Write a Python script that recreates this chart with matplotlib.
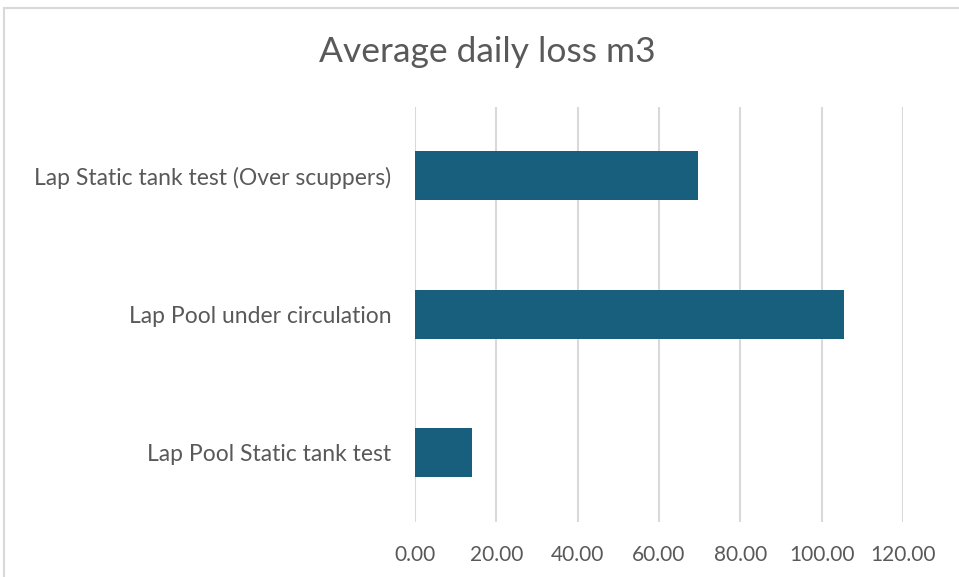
import matplotlib.pyplot as plt
from matplotlib.patches import Rectangle
from matplotlib.ticker import FormatStrFormatter

# categories listed bottom to top (Excel order)
categories = ["Lap Pool Static tank test", "Lap Pool under circulation",
              "Lap Static tank test (Over scuppers)"]
values = [14.1, 105.5, 69.5]
xticks = [0, 20, 40, 60, 80, 100, 120]

plt.rcParams['font.family'] = ['Lato', 'DejaVu Sans']
txt = "#595959"

fig = plt.figure(figsize=(9.59, 5.77), dpi=100)
# light chart border
fig.patches.append(Rectangle((4/959, -0.1), 1.2, 1 - 8/577 + 0.1, transform=fig.transFigure,
                             fill=False, ec="#d9d9d9", lw=1.5))

ax = fig.add_axes([415/959, 1 - 521.75/577, 488/959, 415/577])
ax.barh(range(len(categories)), values, height=0.354, color="#185F7E", zorder=3)
ax.set_yticks(range(len(categories)))
ax.set_yticklabels(categories, fontsize=16.5, color=txt)
ax.set_ylim(-0.5, len(categories) - 0.5)
ax.set_xlim(0, 120)
ax.set_xticks(xticks)
ax.xaxis.set_major_formatter(FormatStrFormatter('%.2f'))
ax.tick_params(axis='x', labelsize=15, labelcolor=txt, length=0, pad=17)
ax.tick_params(axis='y', length=0, pad=17)
ax.grid(axis='x', color="#d9d9d9", lw=1.5, zorder=0)
for s in ax.spines.values():
    s.set_visible(False)

fig.text(487/959, 1 - 52/577, "Average daily loss m3", ha='center', va='center',
         fontsize=25.5, color=txt)

fig.savefig("out.png", dpi=100)
